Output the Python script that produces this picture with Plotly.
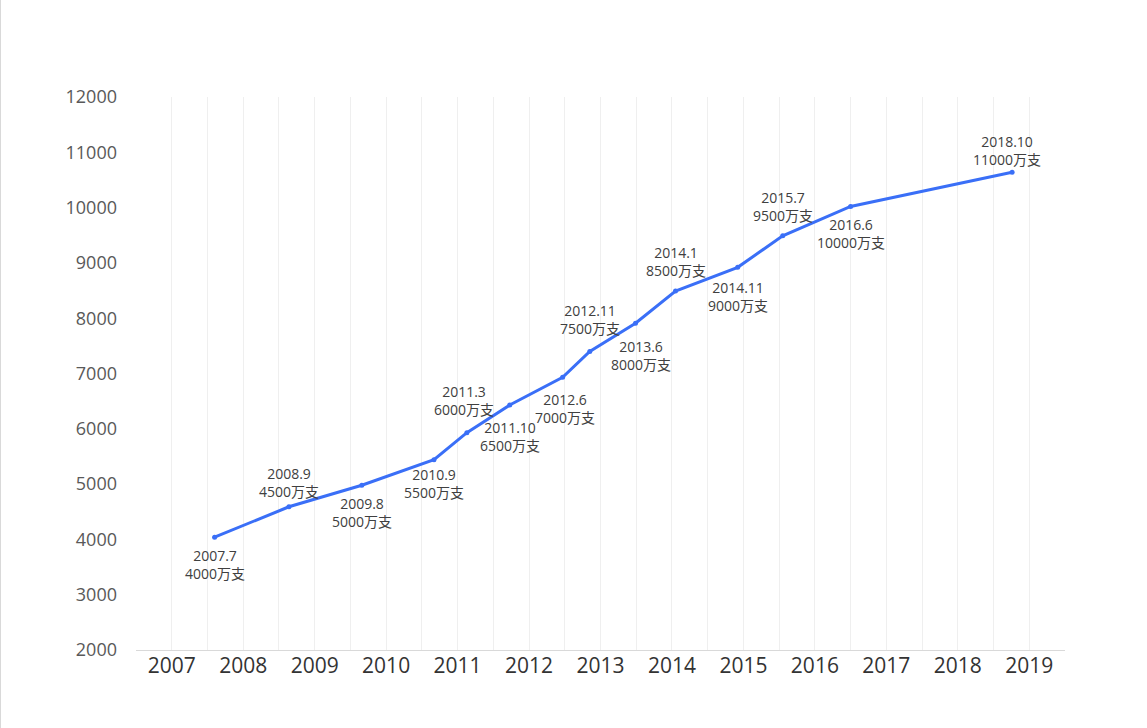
import plotly.graph_objects as go

# ---- data ----
dates = ["2007.7", "2008.9", "2009.8", "2010.9", "2011.3", "2011.10", "2012.6",
         "2012.11", "2013.6", "2014.1", "2014.11", "2015.7", "2016.6", "2018.10"]
x_pos = [2007.60, 2008.64, 2009.66, 2010.67, 2011.13, 2011.73, 2012.47,
         2012.85, 2013.49, 2014.05, 2014.92, 2015.55, 2016.50, 2018.76]
values = [4040, 4590, 4980, 5440, 5930, 6430, 6930,
          7400, 7910, 8490, 8920, 9490, 10020, 10640]
label_values = ["4000", "4500", "5000", "5500", "6000", "6500", "7000",
                "7500", "8000", "8500", "9000", "9500", "10000", "11000"]
unit = "万支"
year_ticks = list(range(2007, 2020))
y_ticks = list(range(2000, 12001, 1000))

# ---- styles (label placement, in px relative to each point) ----
label_yshift = [-27, 24.5, -27.5, -24, 32.5, -31, -31, 32, -32, 30, -29, 29, -27, 22]
label_xshift = [0, 0, 0, 0, -3, 0, 2, 0, 5, 0, 0, 0, 0, -5]
line_color = "#3a6ff7"
font_family = "Open Sans, Noto Sans CJK SC, sans-serif"

texts = [f"{d}<br>{v}{unit}" for d, v in zip(dates, label_values)]

fig = go.Figure()
fig.add_trace(go.Scatter(
    x=x_pos, y=values, mode="lines+markers",
    line=dict(color=line_color, width=3),
    marker=dict(color=line_color, size=5),
    hoverinfo="skip", showlegend=False, cliponaxis=False,
))

annotations = [
    dict(x=x, y=y, xref="x", yref="y", text=t, showarrow=False,
         xanchor="center", yanchor="middle", xshift=xs, yshift=ys,
         font=dict(family=font_family, size=14, color="#404040"))
    for x, y, t, xs, ys in zip(x_pos, values, texts, label_xshift, label_yshift)
]

fig.update_layout(
    width=1147, height=728,
    margin=dict(l=136, r=82, t=97, b=78),
    paper_bgcolor="white", plot_bgcolor="white",
    font=dict(family=font_family),
    annotations=annotations,
    xaxis=dict(
        range=[min(year_ticks) - 0.5, max(year_ticks) + 0.5],
        tickvals=year_ticks, ticktext=[str(y) for y in year_ticks],
        showgrid=True, gridcolor="#efefef", gridwidth=1,
        minor=dict(tickvals=[y - 0.5 for y in year_ticks] + [max(year_ticks) + 0.5],
                   showgrid=True, gridcolor="#efefef", gridwidth=1),
        showline=True, linecolor="#d9d9d9", linewidth=1,
        zeroline=False, ticks="",
        tickfont=dict(family=font_family, size=21, color="#333333"),
        ticklabelstandoff=-3,
        fixedrange=True,
    ),
    yaxis=dict(
        range=[2000, 12000], tickvals=y_ticks, ticktext=[str(v) for v in y_ticks],
        showgrid=False, zeroline=False, showline=False, ticks="",
        tickfont=dict(family=font_family, size=18, color="#595959"),
        ticklabelstandoff=18,
        fixedrange=True,
    ),
    shapes=[dict(type="line", xref="paper", yref="paper",
                 x0=-135.5 / 929, x1=-135.5 / 929, y0=-78 / 553, y1=1 + 97 / 553,
                 line=dict(color="#d9d9d9", width=1))],
)

fig.write_html("out.html")
